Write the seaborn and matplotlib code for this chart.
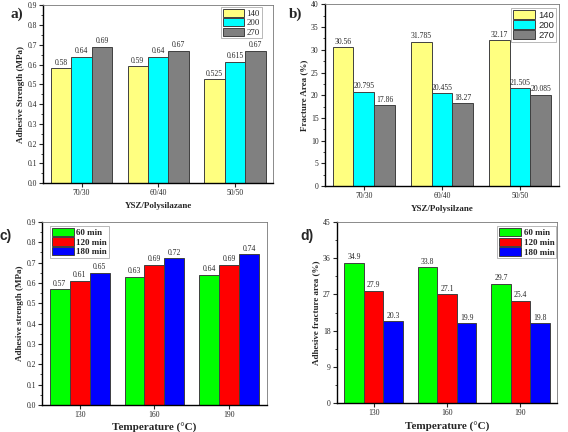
import matplotlib.pyplot as plt
import matplotlib.ticker as mticker
import pandas as pd
import seaborn as sns

sns.set_style("white")
plt.rcParams["font.family"] = ["Liberation Serif", "DejaVu Serif"]

# data
ratios = ["70/30", "60/40", "50/50"]
thick_labels = ["140", "200", "270"]
strength_140 = [0.58, 0.59, 0.525]
strength_200 = [0.64, 0.64, 0.615]
strength_270 = [0.69, 0.67, 0.67]
fracture_140 = [30.56, 31.785, 32.17]
fracture_200 = [20.795, 20.455, 21.505]
fracture_270 = [17.86, 18.27, 20.085]

temps = ["130", "160", "190"]
time_labels = ["60 min", "120 min", "180 min"]
strength_60 = [0.57, 0.63, 0.64]
strength_120 = [0.61, 0.69, 0.69]
strength_180 = [0.65, 0.72, 0.74]
fracture_60 = [34.9, 33.8, 29.7]
fracture_120 = [27.9, 27.1, 25.4]
fracture_180 = [20.3, 19.9, 19.8]

pal_thick = ["#ffff80", "#00ffff", "#808080"]
pal_time = ["#00ff00", "#ff0000", "#0000ff"]


def long_df(cats, hues, series):
    rows = []
    for h, vals in zip(hues, series):
        for c, v in zip(cats, vals):
            rows.append({"cat": c, "grp": h, "val": v})
    return pd.DataFrame(rows)


def draw_panel(ax, df, cats, hues, palette, ymax, ystep, xlabel, ylabel,
               legend_loc, legend_anchor, legend_font, xlabel_size):
    sns.barplot(data=df, x="cat", y="val", hue="grp", order=cats,
                hue_order=hues, palette=palette, errorbar=None, width=0.8,
                edgecolor="#404040", linewidth=0.7, saturation=1, ax=ax)
    for cont in ax.containers:
        ax.bar_label(cont, fmt="%g", fontsize=5.5, padding=1)
    ax.set_xlim(-0.5, 2.5)
    ax.set_ylim(0, ymax)
    ax.yaxis.set_major_locator(mticker.MultipleLocator(ystep))
    ax.yaxis.set_minor_locator(mticker.MultipleLocator(ystep / 2))
    if ystep < 1:
        ax.yaxis.set_major_formatter(mticker.FormatStrFormatter("%.1f"))
    ax.tick_params(axis="both", which="major", direction="out", length=3,
                   width=0.8, labelsize=5.5, pad=1.5, left=True, bottom=True)
    ax.tick_params(axis="y", which="minor", direction="out", length=1.5,
                   width=0.6, left=True)
    ax.set_xlabel(xlabel, fontsize=xlabel_size, fontweight="bold", labelpad=3)
    ax.set_ylabel(ylabel, fontsize=6.5, fontweight="bold", labelpad=2)
    for side in ["left", "bottom"]:
        ax.spines[side].set_color("black")
        ax.spines[side].set_linewidth(1.0)
    for side in ["top", "right"]:
        ax.spines[side].set_color("#777777")
        ax.spines[side].set_linewidth(0.6)
    leg = ax.legend(loc=legend_loc, bbox_to_anchor=legend_anchor,
                    borderaxespad=0, prop=legend_font, frameon=True,
                    fancybox=False, edgecolor="#999999", handlelength=2.4,
                    handleheight=1.05, borderpad=0.2, labelspacing=0.05,
                    handletextpad=0.3)
    leg.get_frame().set_linewidth(0.6)
    for patch in leg.get_patches():
        patch.set_edgecolor("#404040")


fig = plt.figure(figsize=(5.68, 4.32), dpi=100)
ax_a = fig.add_axes([0.076, 0.576, 0.405, 0.412])
ax_b = fig.add_axes([0.572, 0.569, 0.412, 0.421])
ax_c = fig.add_axes([0.074, 0.0625, 0.396, 0.424])
ax_d = fig.add_axes([0.593, 0.067, 0.388, 0.419])

draw_panel(ax_a, long_df(ratios, thick_labels,
                         [strength_140, strength_200, strength_270]),
           ratios, thick_labels, pal_thick, 0.9, 0.1, "YSZ/Polysilazane",
           "Adhesive Strength (MPa)", "upper right", (0.95, 0.99),
           {"family": "Liberation Serif", "size": 6.3}, 6.5)
draw_panel(ax_b, long_df(ratios, thick_labels,
                         [fracture_140, fracture_200, fracture_270]),
           ratios, thick_labels, pal_thick, 40, 5, "YSZ/Polysilzane",
           "Fracture Area (%)", "upper right", (0.988, 0.978),
           {"family": "Liberation Sans", "size": 6.8}, 6.5)
draw_panel(ax_c, long_df(temps, time_labels,
                         [strength_60, strength_120, strength_180]),
           temps, time_labels, pal_time, 0.9, 0.1, "Temperature (\u00b0C)",
           "Adhesive strength (MPa)", "upper left", (0.036, 0.978),
           {"family": "Liberation Serif", "size": 6.5, "weight": "bold"}, 8)
draw_panel(ax_d, long_df(temps, time_labels,
                         [fracture_60, fracture_120, fracture_180]),
           temps, time_labels, pal_time, 45, 9, "Temperature (\u00b0C)",
           "Adhesive fracture area (%)", "upper right", (0.995, 0.978),
           {"family": "Liberation Serif", "size": 6.5, "weight": "bold"}, 8)

fig.text(0.018, 0.958, "a)", fontsize=11, fontweight="bold",
         family="Liberation Serif")
fig.text(0.508, 0.958, "b)", fontsize=11, fontweight="bold",
         family="Liberation Serif")
fig.text(0.0, 0.445, "c)", fontsize=10, fontweight="bold",
         family="Liberation Sans")
fig.text(0.528, 0.445, "d)", fontsize=10, fontweight="bold",
         family="Liberation Sans")

plt.savefig("out.png", dpi=100)
plt.close()
